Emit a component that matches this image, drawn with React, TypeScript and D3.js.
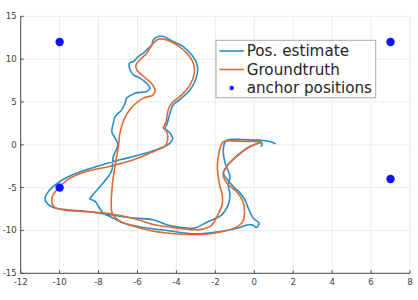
import React from "react";
import * as d3 from "d3";

const xTicks = [-12, -10, -8, -6, -4, -2, 0, 2, 4, 6, 8];
const yTicks = [-15, -10, -5, 0, 5, 10, 15];

const anchorX = [-10, 7, -10, 7];
const anchorY = [12, 12, -5, -4];

const seriesNames = ["Pos. estimate", "Groundtruth", "anchor positions"];

const groundtruth: [number, number][] = [
  [0.4, 0.35], [0.0, 0.0], [-0.5, -0.6], [-1.0, -1.5], [-1.4, -2.5], [-1.6, -3.5],
  [-1.4, -4.5], [-0.9, -5.5], [-0.6, -6.5], [-0.5, -7.8], [-0.6, -9.0], [-1.0, -9.7],
  [-2.0, -10.3], [-3.0, -10.5], [-4.5, -10.3], [-5.9, -9.7], [-7.0, -8.8], [-7.3, -8.0],
  [-7.3, -4.9], [-7.1, -1.75], [-6.98, -0.2], [-6.9, 1.4], [-6.7, 2.9], [-6.4, 4.1],
  [-5.7, 5.45], [-5.2, 5.8], [-5.1, 6.4], [-5.3, 7.2], [-5.7, 8.0], [-6.04, 8.75],
  [-6.08, 9.33], [-5.87, 9.92], [-5.53, 10.7], [-5.19, 11.87], [-4.93, 12.33], [-4.5, 12.25],
  [-3.99, 11.67], [-3.47, 10.7], [-3.13, 9.53], [-3.08, 8.37], [-3.3, 7.0], [-3.73, 5.83],
  [-4.24, 4.86], [-4.42, 4.08], [-4.53, 2.72], [-4.67, 1.95], [-4.5, 1.55], [-4.45, 0.58],
  [-4.6, -0.2], [-5.0, -0.6], [-6.2, -1.75], [-7.4, -2.5], [-8.6, -3.1], [-9.6, -4.1],
  [-10.15, -5.25], [-10.4, -6.2], [-10.3, -7.2], [-9.8, -7.6], [-8.6, -7.8], [-7.4, -8.05],
  [-6.2, -8.6], [-5.2, -9.3], [-4.0, -9.7], [-2.8, -9.9], [-2.2, -9.4], [-1.9, -8.3],
  [-1.65, -7.0], [-1.64, -6.0], [-1.8, -4.5], [-1.9, -2.5], [-1.8, -0.8], [-1.6, 0.35],
  [-1.2, 0.45], [-0.5, 0.4], [0.4, 0.35],
];

const estimate: [number, number][] = [
  [0.35, -0.25], [0.4, 0.2], [-0.22, -0.2], [-0.9, -1.36], [-1.42, -2.53], [-1.59, -3.3],
  [-1.3, -4.3], [-1.08, -4.86], [-0.73, -5.64], [-0.48, -6.42], [-0.31, -7.39], [-0.05, -8.56],
  [0.25, -9.14], [0.1, -9.65], [-0.05, -9.4], [-0.31, -9.33], [-0.82, -9.72], [-1.67, -10.1],
  [-3.05, -10.4], [-4.5, -10.0], [-5.87, -9.6], [-6.73, -9.14], [-7.24, -8.56], [-7.75, -7.97],
  [-8.0, -7.2], [-8.18, -6.6], [-8.44, -6.3], [-8.35, -6.0], [-7.92, -4.86], [-7.5, -3.7],
  [-7.32, -3.0], [-7.24, -1.36], [-7.0, 0], [-7.15, 0.78], [-7.32, 1.55], [-7.24, 2.53],
  [-7.15, 3.3], [-6.81, 4.08], [-6.64, 4.86], [-6.55, 5.45], [-6.13, 6.03], [-5.53, 6.22],
  [-5.36, 6.6], [-5.53, 7.2], [-5.87, 7.78], [-6.21, 8.17], [-6.38, 8.75], [-6.42, 9.53],
  [-6.21, 9.72], [-5.96, 10.3], [-5.7, 10.7], [-5.53, 11.08], [-5.27, 11.67], [-5.19, 12.25],
  [-4.93, 12.64], [-4.67, 12.64], [-4.16, 12.05], [-3.65, 11.47], [-3.22, 10.5], [-2.96, 9.53],
  [-2.91, 8.55], [-3.05, 7.39], [-3.3, 6.42], [-3.73, 5.45], [-4.16, 4.67], [-4.33, 3.7],
  [-4.42, 2.92], [-4.5, 2.33], [-4.59, 1.95], [-4.33, 1.37], [-4.19, 0.78], [-4.33, 0.2],
  [-4.84, -0.39], [-5.87, -1.17], [-6.9, -1.75], [-8.1, -2.53], [-9.12, -3.3], [-9.98, -4.28],
  [-10.5, -5.25], [-10.75, -6.22], [-10.66, -6.8], [-10.24, -7.39], [-9.63, -7.58], [-8.6, -7.78],
  [-7.4, -8.17], [-6.2, -8.56], [-5.19, -8.75], [-4.5, -9.33], [-3.47, -9.72], [-3.05, -9.72],
  [-2.36, -8.95], [-1.67, -8.17], [-1.34, -7.0], [-1.25, -5.83], [-1.34, -4.67], [-1.25, -3.7],
  [-1.5, -2.14], [-1.59, -0.58], [-1.45, 0.5], [-1.1, 0.65], [-0.56, 0.6], [0.12, 0.55],
  [0.46, 0.5], [0.98, 0.25], [1.1, 0.1],
];

const BLUE = "#2a8cc6";
const ORANGE = "#e2692f";
const ANCHOR = "#0a14ff";
const FONT = "DejaVu Sans, sans-serif";

export default function App() {
  const x = d3.scaleLinear().domain([-12, 8]).range([20.7, 410]);
  const y = d3.scaleLinear().domain([-15, 15]).range([273.3, 16.3]);
  const line = d3
    .line<[number, number]>()
    .x((d) => x(d[0]))
    .y((d) => y(d[1]))
    .curve(d3.curveCatmullRom.alpha(0.5));

  const [x0, x1] = x.range();
  const [y0, y1] = y.range();

  const legX = 216, legY = 40.3, legW = 159.7, legH = 57.4;
  const rowY = [51, 69.5, 88];

  return (
    <svg
      width={418}
      height={300}
      style={{ position: "absolute", left: 0, top: 0, background: "#fff" }}
      fontFamily={FONT}
    >
      <rect x={0} y={0} width={418} height={300} fill="#fff" />
      {xTicks.map((t) => (
        <line key={"gx" + t} x1={x(t)} x2={x(t)} y1={y1} y2={y0} stroke="#ebebeb" strokeWidth={1} />
      ))}
      {yTicks.map((t) => (
        <line key={"gy" + t} x1={x0} x2={x1} y1={y(t)} y2={y(t)} stroke="#ebebeb" strokeWidth={1} />
      ))}
      <line x1={x0} x2={x0} y1={y1} y2={y0} stroke="#4a4a4a" strokeWidth={1} />
      <line x1={x0} x2={x1} y1={y0} y2={y0} stroke="#4a4a4a" strokeWidth={1} />
      {xTicks.map((t) => (
        <g key={"tx" + t}>
          <line x1={x(t)} x2={x(t)} y1={y0} y2={y0 - 3} stroke="#4a4a4a" />
          <text x={x(t)} y={285} fontSize={8.6} textAnchor="middle" fill="#404040">
            {t}
          </text>
        </g>
      ))}
      {yTicks.map((t) => (
        <g key={"ty" + t}>
          <line x1={x0} x2={x0 + 3} y1={y(t)} y2={y(t)} stroke="#4a4a4a" />
          <text x={16.8} y={y(t) + 3} fontSize={8.6} textAnchor="end" fill="#404040">
            {t}
          </text>
        </g>
      ))}
      <path d={line(estimate) || ""} fill="none" stroke={BLUE} strokeWidth={1.6} strokeLinejoin="round" />
      <path d={line(groundtruth) || ""} fill="none" stroke={ORANGE} strokeWidth={1.6} strokeLinejoin="round" />
      {anchorX.map((ax, i) => (
        <circle key={"a" + i} cx={x(ax)} cy={y(anchorY[i])} r={4.2} fill={ANCHOR} />
      ))}
      <rect x={legX} y={legY} width={legW} height={legH} fill="#fff" stroke="#a8a8a8" strokeWidth={1} />
      <line x1={219.3} x2={244} y1={rowY[0]} y2={rowY[0]} stroke={BLUE} strokeWidth={1.6} />
      <line x1={219.3} x2={244} y1={rowY[1]} y2={rowY[1]} stroke={ORANGE} strokeWidth={1.6} />
      <circle cx={231.7} cy={rowY[2]} r={2.2} fill={ANCHOR} />
      {seriesNames.map((s, i) => (
        <text key={s} x={246.7} y={rowY[i] + 5.3} fontSize={15.2} fill="#262626">
          {s}
        </text>
      ))}
    </svg>
  );
}
